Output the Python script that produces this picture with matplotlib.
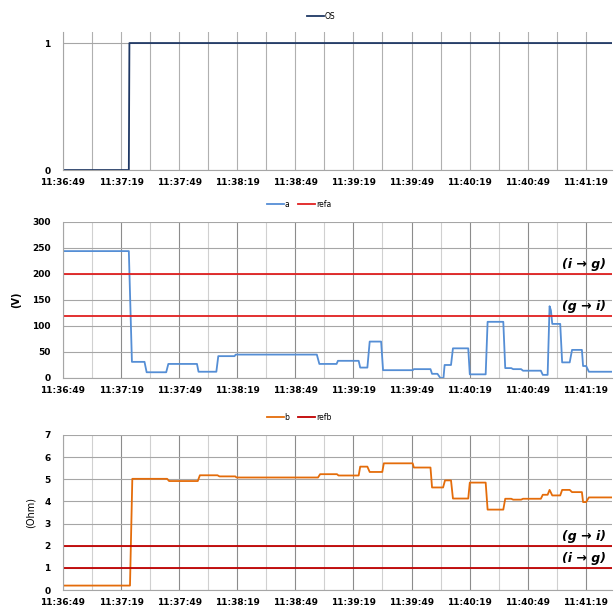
import datetime
import matplotlib
matplotlib.use("Agg")
import matplotlib.pyplot as plt
from matplotlib.ticker import FuncFormatter, MultipleLocator

# time offsets in seconds from 11:36:49
START = datetime.datetime(2020, 1, 1, 11, 36, 49)
T_END = 283.5

os_t = [0, 34, 34.3, 283.5]
os_v = [0, 0, 1, 1]

a_t = [0, 34, 35.6, 42.1, 43.2, 53.3, 54.4, 69.2, 70, 79.2, 80.2, 88.6, 89.2, 131.1,
       132.4, 141.3, 142, 152.7, 153.5, 157.2, 158.4, 164.3, 165.3, 180.6, 181.2, 189.8,
       190.6, 193.4, 194.9, 196.5, 197.1, 200.4, 201.4, 209.3, 210.1, 218.3, 219.3, 227.4,
       228.4, 231.5, 232.5, 236.6, 237.6, 246.8, 247.8, 250.3, 251.3, 252, 252.7, 256.8,
       257.8, 261.7, 262.9, 268, 268.6, 270.2, 271.6, 283.5]
a_v = [244, 244, 31, 31, 11, 11, 27, 27, 12, 12, 42, 42, 45, 45,
       27, 27, 33, 33, 20, 20, 70, 70, 15, 15, 17, 17,
       8, 8, 0, 0, 25, 25, 57, 57, 7, 7, 108, 108,
       19, 19, 17, 17, 14, 14, 6, 6, 138, 130, 104, 104,
       30, 30, 54, 54, 23, 23, 12, 12]
refa = [200, 120]
refa_labels = ["(i \u2192 g)", "(g \u2192 i)"]

b_t = [0, 34.6, 35.8, 53.8, 54.8, 69.6, 70.7, 79.8, 80.8, 89, 89.6, 131.7, 132.8, 141.5,
       142.3, 152.7, 153.5, 157.2, 158.4, 164.9, 165.7, 180.6, 181.2, 189.8, 190.6, 196.3,
       197.3, 200.4, 201.4, 209.3, 210.1, 218.3, 219.3, 227.4, 228.4, 231.5, 232.5, 236.6,
       237.6, 246.8, 247.8, 250.3, 251.3, 252.7, 256.8, 257.8, 261.7, 262.9, 268, 268.6,
       270.2, 271.6, 283.5]
b_v = [0.2, 0.2, 5.02, 5.02, 4.92, 4.92, 5.18, 5.18, 5.13, 5.13, 5.08, 5.08, 5.23, 5.23,
       5.17, 5.17, 5.57, 5.57, 5.33, 5.33, 5.72, 5.72, 5.53, 5.53, 4.63, 4.63,
       4.95, 4.95, 4.13, 4.13, 4.85, 4.85, 3.63, 3.63, 4.12, 4.12, 4.08, 4.08,
       4.12, 4.12, 4.3, 4.3, 4.52, 4.27, 4.27, 4.52, 4.52, 4.42, 4.42, 3.97,
       3.97, 4.18, 4.18]
refb = [2, 1]
refb_labels = ["(g \u2192 i)", "(i \u2192 g)"]


def fmt_time(x, pos):
    return (START + datetime.timedelta(seconds=x)).strftime("%H:%M:%S")


def style_axis(ax, uniform_grid=False):
    ax.set_xlim(0, T_END)
    ax.xaxis.set_major_locator(MultipleLocator(30))
    ax.xaxis.set_minor_locator(MultipleLocator(15))
    ax.xaxis.set_major_formatter(FuncFormatter(fmt_time))
    for s in ["top", "right"]:
        ax.spines[s].set_visible(False)
    ax.spines["left"].set_color("#a6a6a6")
    ax.spines["bottom"].set_color("#a6a6a6")
    ax.tick_params(axis="x", labelsize=6.5, length=0, pad=6)
    ax.tick_params(axis="y", labelsize=6.5, length=0, pad=9)
    ax.tick_params(axis="x", which="minor", length=0)
    for lab in ax.get_xticklabels() + ax.get_yticklabels():
        lab.set_fontweight("bold")
    if uniform_grid:
        ax.grid(True, which="both", axis="x", color="#b0b0b0", lw=0.8)
    else:
        ax.grid(True, which="major", axis="x", color="#8c8c8c", lw=0.8)
        ax.grid(True, which="minor", axis="x", color="#d0d0d0", lw=0.8)
    ax.grid(True, which="major", axis="y", color="#a6a6a6", lw=0.8)
    ax.set_axisbelow(True)


fig = plt.figure(figsize=(6.14, 6.07), dpi=100)
left, width = 0.1026, 0.894

# panel 1
ax1 = fig.add_axes([left, 0.7199, width, 0.2274])
ax1.plot(os_t, os_v, color="#1f3864", lw=1.3, label="OS")
ax1.set_ylim(0, 1.087)
ax1.set_yticks([0, 1])
style_axis(ax1, uniform_grid=True)
ax1.legend(loc="lower center", bbox_to_anchor=(0.47, 1.03), frameon=False,
           fontsize=5.5, handlelength=2.2, handletextpad=0.1)

# panel 2
ax2 = fig.add_axes([left, 0.3773, width, 0.257])
ax2.plot(a_t, a_v, color="#558ed5", lw=1.3, label="a")
for i, r in enumerate(refa):
    ax2.axhline(r, color="#e02020", lw=1.3, label="refa" if i == 0 else None)
    ax2.text(0.99, r + 5, refa_labels[i], transform=ax2.get_yaxis_transform(),
             ha="right", va="bottom", fontsize=9, fontweight="bold", style="italic")
ax2.set_ylim(0, 300)
ax2.set_yticks(range(0, 301, 50))
ax2.set_ylabel("(V)", fontsize=7, fontweight="bold", labelpad=8)
style_axis(ax2)
ax2.legend(loc="lower center", bbox_to_anchor=(0.43, 1.04), frameon=False, ncol=2,
           fontsize=5.5, handlelength=2.2, handletextpad=0.1, columnspacing=1.2)

# panel 3
ax3 = fig.add_axes([left, 0.028, width, 0.2554])
ax3.plot(b_t, b_v, color="#e46c0a", lw=1.3, label="b")
for i, r in enumerate(refb):
    ax3.axhline(r, color="#c00000", lw=1.3, label="refb" if i == 0 else None)
    ax3.text(0.99, r + 0.12, refb_labels[i], transform=ax3.get_yaxis_transform(),
             ha="right", va="bottom", fontsize=9, fontweight="bold", style="italic")
ax3.set_ylim(0, 7)
ax3.set_yticks(range(0, 8))
ax3.set_ylabel("(Ohm)", fontsize=7, labelpad=6)
style_axis(ax3)
ax3.legend(loc="lower center", bbox_to_anchor=(0.43, 1.04), frameon=False, ncol=2,
           fontsize=5.5, handlelength=2.2, handletextpad=0.1, columnspacing=1.2)

fig.savefig("out.png", dpi=100)
